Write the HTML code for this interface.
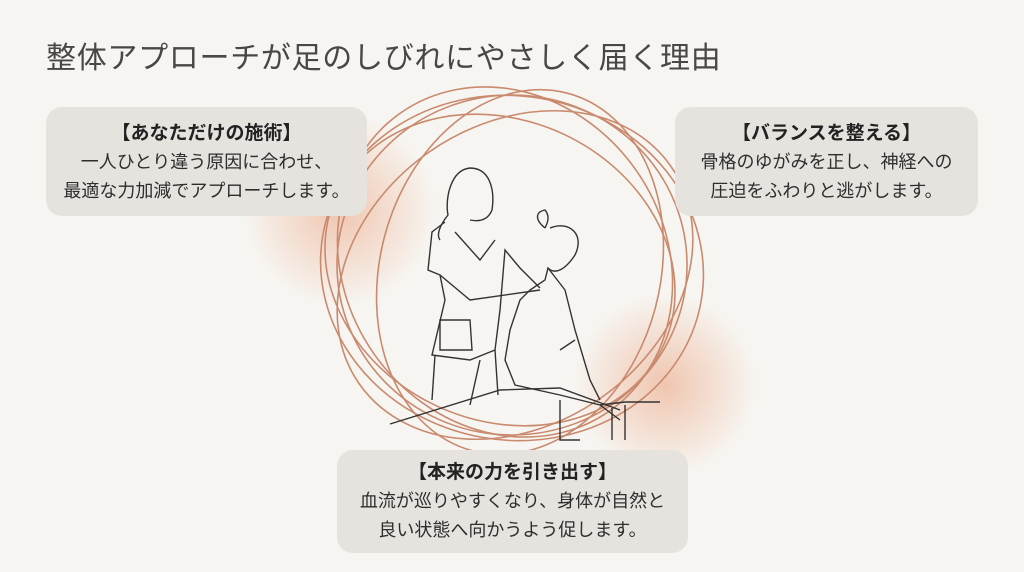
<!DOCTYPE html>
<html><head><meta charset="utf-8"><style>
body{margin:0;width:1024px;height:572px;background:#f7f5f1;position:relative;overflow:hidden;font-family:"Liberation Sans","Noto Sans CJK JP",sans-serif;color:#333}
.t{position:absolute;left:46px;top:33px;font-size:30px;color:#4a4644;letter-spacing:0.7px}
.b{position:absolute;background:#e6e3df;border-radius:16px;text-align:center;font-size:18px;line-height:29px;color:#2e2e2e;white-space:nowrap}
.b b{font-size:19px;display:block;color:#222}
.g{position:absolute;border-radius:50%;background:radial-gradient(circle,rgba(232,150,110,.5),rgba(232,150,110,0) 68%)}
</style></head><body>
<div class="g" style="left:240px;top:110px;width:200px;height:200px"></div>
<div class="g" style="left:570px;top:290px;width:190px;height:190px"></div>
<svg style="position:absolute;left:0;top:0" width="1024" height="572">
<g fill="none" stroke="#c98a6e" stroke-width="1.6">
<ellipse cx="512" cy="268" rx="192" ry="172" transform="rotate(10 512 268)"/>
<ellipse cx="515" cy="275" rx="190" ry="150" transform="rotate(-35 515 275)"/>
<ellipse cx="505" cy="262" rx="182" ry="160" transform="rotate(55 505 262)"/>
<ellipse cx="520" cy="272" rx="185" ry="140" transform="rotate(-75 520 272)"/>
<ellipse cx="512" cy="265" rx="175" ry="170"/>
<ellipse cx="500" cy="270" rx="180" ry="150" transform="rotate(25 500 270)"/>
</g>
<g fill="none" stroke="#333" stroke-width="1.4">
<path d="M390 424 L500 390 L560 388 L620 410"/>
<path d="M470 168 C450 170 445 200 448 215 C440 225 436 235 440 240 M470 168 C490 168 495 190 492 210 C488 220 480 222 470 220"/>
<path d="M445 222 L432 232 L428 270 L440 275 L445 300 L432 355 L470 360 L495 350 L500 310 L505 250 L520 268 L540 288"/>
<path d="M440 275 L470 300 L540 290 M455 232 L480 260 L495 240"/>
<path d="M440 320 L470 320 L472 350 L440 350 Z"/>
<path d="M435 355 L432 400 M480 360 L470 405 M495 350 L498 395"/>
<path d="M545 228 C535 220 535 212 545 210 C550 216 548 222 545 228 M550 228 C570 220 585 235 575 255 C565 270 555 275 548 268 L545 280 L530 290 L520 300 L510 330 L505 360 L515 385 L560 395 L600 405 L620 420"/>
<path d="M548 268 L565 290 L575 330 L590 380 L600 400 M575 340 L560 350"/>
<path d="M600 405 L625 402 L660 402 M612 408 L612 440 M625 405 L625 440 M560 400 L560 440 L580 440"/>
</g>
</svg>
<div class="t">整体アプローチが足のしびれにやさしく届く理由</div>
<div class="b" style="left:46px;top:107px;width:321px;height:109px;padding-top:12px;box-sizing:border-box"><b>【あなただけの施術】</b>一人ひとり違う原因に合わせ、<br>最適な力加減でアプローチします。</div>
<div class="b" style="left:675px;top:107px;width:303px;height:109px;padding-top:12px;box-sizing:border-box"><b>【バランスを整える】</b>骨格のゆがみを正し、神経への<br>圧迫をふわりと逃がします。</div>
<div class="b" style="left:337px;top:450px;width:351px;height:103px;padding-top:8px;box-sizing:border-box"><b>【本来の力を引き出す】</b>血流が巡りやすくなり、身体が自然と<br>良い状態へ向かうよう促します。</div>
</body></html>
